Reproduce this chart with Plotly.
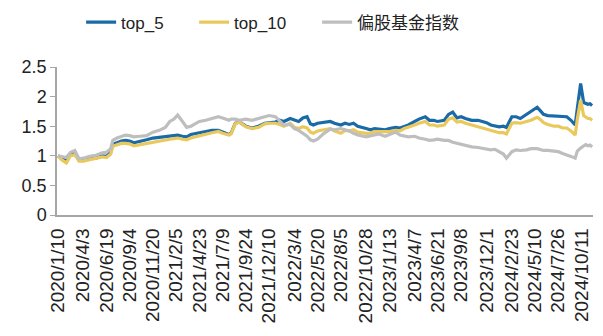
import plotly.graph_objects as go

dates = [
    "2020-01-10", "2020-01-23", "2020-02-07", "2020-02-21", "2020-03-06", "2020-03-20",
    "2020-04-03", "2020-04-24", "2020-05-15", "2020-06-05", "2020-06-19", "2020-07-03",
    "2020-07-10", "2020-07-24", "2020-08-07", "2020-08-21", "2020-09-04", "2020-09-18",
    "2020-10-09", "2020-10-30", "2020-11-20", "2020-12-11", "2020-12-31", "2021-01-15",
    "2021-01-29", "2021-02-10", "2021-02-26", "2021-03-12", "2021-03-26", "2021-04-09",
    "2021-04-23", "2021-05-14", "2021-06-04", "2021-06-25", "2021-07-09", "2021-07-30",
    "2021-08-06", "2021-08-20", "2021-09-03", "2021-09-24", "2021-10-15", "2021-11-05",
    "2021-11-26", "2021-12-10", "2021-12-31", "2022-01-14", "2022-01-28", "2022-02-18",
    "2022-03-04", "2022-03-18", "2022-04-01", "2022-04-15", "2022-04-26", "2022-05-06",
    "2022-05-20", "2022-06-10", "2022-07-01", "2022-07-15", "2022-08-05", "2022-08-19",
    "2022-09-02", "2022-09-16", "2022-09-30", "2022-10-28", "2022-11-11", "2022-11-25",
    "2022-12-09", "2022-12-30", "2023-01-13", "2023-02-03", "2023-02-17", "2023-03-03",
    "2023-03-17", "2023-04-07", "2023-04-21", "2023-05-12", "2023-05-26", "2023-06-09",
    "2023-06-21", "2023-07-14", "2023-07-28", "2023-08-11", "2023-08-25", "2023-09-08",
    "2023-09-22", "2023-10-13", "2023-11-03", "2023-11-17", "2023-12-01", "2023-12-15",
    "2023-12-29", "2024-01-12", "2024-01-26", "2024-02-05", "2024-02-23", "2024-03-08",
    "2024-03-22", "2024-04-12", "2024-04-26", "2024-05-17", "2024-05-24", "2024-06-07",
    "2024-06-21", "2024-07-12", "2024-07-26", "2024-08-09", "2024-08-23", "2024-09-06",
    "2024-09-20", "2024-09-27", "2024-10-08", "2024-10-18", "2024-10-25", "2024-11-01",
    "2024-11-08", "2024-11-15",
]

top_5 = [
    1.00, 0.96, 0.92, 1.02, 1.04, 0.93,
    0.92, 0.95, 0.96, 1.00, 0.99, 1.06,
    1.20, 1.22, 1.25, 1.26, 1.25, 1.22,
    1.24, 1.27, 1.30, 1.31, 1.33, 1.33,
    1.34, 1.35, 1.33, 1.32, 1.36, 1.37,
    1.39, 1.41, 1.43, 1.43, 1.40, 1.36,
    1.38, 1.55, 1.57, 1.50, 1.47, 1.50,
    1.55, 1.56, 1.57, 1.60, 1.58, 1.63,
    1.60, 1.58, 1.64, 1.66, 1.54, 1.52,
    1.55, 1.57, 1.58, 1.55, 1.52, 1.55,
    1.53, 1.55, 1.50, 1.46, 1.44, 1.46,
    1.45, 1.44, 1.46, 1.48, 1.47, 1.50,
    1.52, 1.58, 1.62, 1.66, 1.60, 1.60,
    1.58, 1.60, 1.70, 1.74, 1.64, 1.66,
    1.63, 1.60, 1.60, 1.58, 1.56, 1.52,
    1.51, 1.49, 1.50, 1.48, 1.66, 1.66,
    1.63, 1.70, 1.75, 1.82, 1.78, 1.70,
    1.68, 1.67, 1.67, 1.66, 1.66, 1.60,
    1.52, 1.80, 2.22, 1.90, 1.89, 1.87,
    1.88, 1.85,
]

top_10 = [
    1.00, 0.93, 0.88, 1.00, 1.02, 0.91,
    0.91, 0.93, 0.95, 0.98, 0.97, 1.03,
    1.16, 1.19, 1.21, 1.21, 1.20, 1.17,
    1.19, 1.21, 1.24, 1.26, 1.27, 1.28,
    1.29, 1.30, 1.28, 1.27, 1.30, 1.32,
    1.34, 1.36, 1.39, 1.41, 1.38, 1.35,
    1.37, 1.54, 1.57, 1.49, 1.46, 1.48,
    1.54, 1.55, 1.55, 1.53, 1.50, 1.55,
    1.48, 1.46, 1.49, 1.47, 1.40, 1.38,
    1.42, 1.44, 1.46, 1.42, 1.38, 1.43,
    1.42, 1.44, 1.40, 1.38, 1.38, 1.41,
    1.41, 1.40, 1.41, 1.43, 1.42, 1.46,
    1.48, 1.52, 1.55, 1.58, 1.52, 1.52,
    1.50, 1.52, 1.62, 1.64, 1.57, 1.58,
    1.55, 1.52, 1.48, 1.46, 1.45, 1.42,
    1.41, 1.39, 1.39, 1.37, 1.55, 1.56,
    1.55, 1.58, 1.60, 1.65, 1.63, 1.56,
    1.53, 1.50, 1.50, 1.47, 1.47, 1.42,
    1.35, 1.62, 1.94, 1.68, 1.66, 1.63,
    1.63, 1.60,
]

fund_index = [
    1.00, 0.98, 0.97, 1.06, 1.09, 0.95,
    0.96, 0.99, 1.01, 1.05, 1.06, 1.12,
    1.26, 1.30, 1.33, 1.35, 1.34, 1.32,
    1.33, 1.34, 1.40, 1.43, 1.48, 1.58,
    1.62, 1.69, 1.58, 1.48, 1.50, 1.54,
    1.58, 1.60, 1.63, 1.66, 1.64, 1.60,
    1.62, 1.62, 1.60, 1.62, 1.60, 1.63,
    1.66, 1.68, 1.66, 1.58, 1.52, 1.53,
    1.46, 1.43, 1.38, 1.33, 1.27, 1.25,
    1.28, 1.38, 1.45, 1.44, 1.46, 1.44,
    1.42, 1.38, 1.35, 1.32, 1.34, 1.35,
    1.37, 1.33, 1.36, 1.40, 1.35, 1.34,
    1.32, 1.33, 1.30, 1.28, 1.26, 1.27,
    1.28, 1.26, 1.26, 1.23, 1.21, 1.20,
    1.17, 1.15, 1.14, 1.13, 1.12, 1.10,
    1.11, 1.07, 1.03, 0.96, 1.07, 1.10,
    1.09, 1.10, 1.12, 1.12, 1.11, 1.09,
    1.09, 1.08, 1.07, 1.04, 1.02, 0.99,
    0.96, 1.08, 1.13, 1.17, 1.19, 1.17,
    1.18, 1.15,
]

tick_dates = [
    "2020-01-10", "2020-04-03", "2020-06-19", "2020-09-04", "2020-11-20",
    "2021-02-05", "2021-04-23", "2021-07-09", "2021-09-24", "2021-12-10",
    "2022-03-04", "2022-05-20", "2022-08-05", "2022-10-28", "2023-01-13",
    "2023-04-07", "2023-06-21", "2023-09-08", "2023-12-01", "2024-02-23",
    "2024-05-10", "2024-07-26", "2024-10-11",
]
tick_labels = [
    "2020/1/10", "2020/4/3", "2020/6/19", "2020/9/4", "2020/11/20",
    "2021/2/5", "2021/4/23", "2021/7/9", "2021/9/24", "2021/12/10",
    "2022/3/4", "2022/5/20", "2022/8/5", "2022/10/28", "2023/1/13",
    "2023/4/7", "2023/6/21", "2023/9/8", "2023/12/1", "2024/2/23",
    "2024/5/10", "2024/7/26", "2024/10/11",
]

series = [
    ("top_5", top_5, "#1B6AA8", 68),
    ("top_10", top_10, "#EAC95C", 78),
    ("偏股基金指数", fund_index, "#BEBEBE", 112),
]

fig = go.Figure()
for name, vals, color, lw in series:
    fig.add_trace(go.Scatter(
        x=dates, y=vals, name=name, mode="lines",
        line=dict(color=color, width=3.2),
        legendwidth=lw,
    ))

fig.update_layout(
    width=603, height=336,
    margin=dict(l=57, r=10, t=67, b=121, autoexpand=False),
    paper_bgcolor="white", plot_bgcolor="white",
    font=dict(family="Liberation Sans, Arial, Noto Sans CJK SC", size=17, color="#222"),
    showlegend=True,
    legend=dict(
        orientation="h", x=0.045, xanchor="left", y=1.30, yanchor="middle",
        font=dict(family="Liberation Sans, Noto Sans CJK SC", size=17, color="#222"),
        bgcolor="rgba(0,0,0,0)",
    ),
    xaxis=dict(
        type="date", range=["2020-01-07", "2024-11-18"],
        tickmode="array", tickvals=tick_dates, ticktext=tick_labels,
        tickangle=-90, tickfont=dict(size=19, color="#222"),
        ticklabelstandoff=4,
        showline=True, linecolor="#A6A6A6", linewidth=1.5,
        showgrid=False, zeroline=False, ticks="",
    ),
    yaxis=dict(
        range=[0, 2.5], tickmode="array", tickvals=[0, 0.5, 1, 1.5, 2, 2.5],
        ticktext=["0", "0.5", "1", "1.5", "2", "2.5"],
        tickfont=dict(size=18, color="#222"),
        showline=True, linecolor="#A6A6A6", linewidth=1.5,
        ticks="outside", ticklen=5, tickcolor="#A6A6A6",
        showgrid=False, zeroline=False,
    ),
)

fig.write_html("out.html")
